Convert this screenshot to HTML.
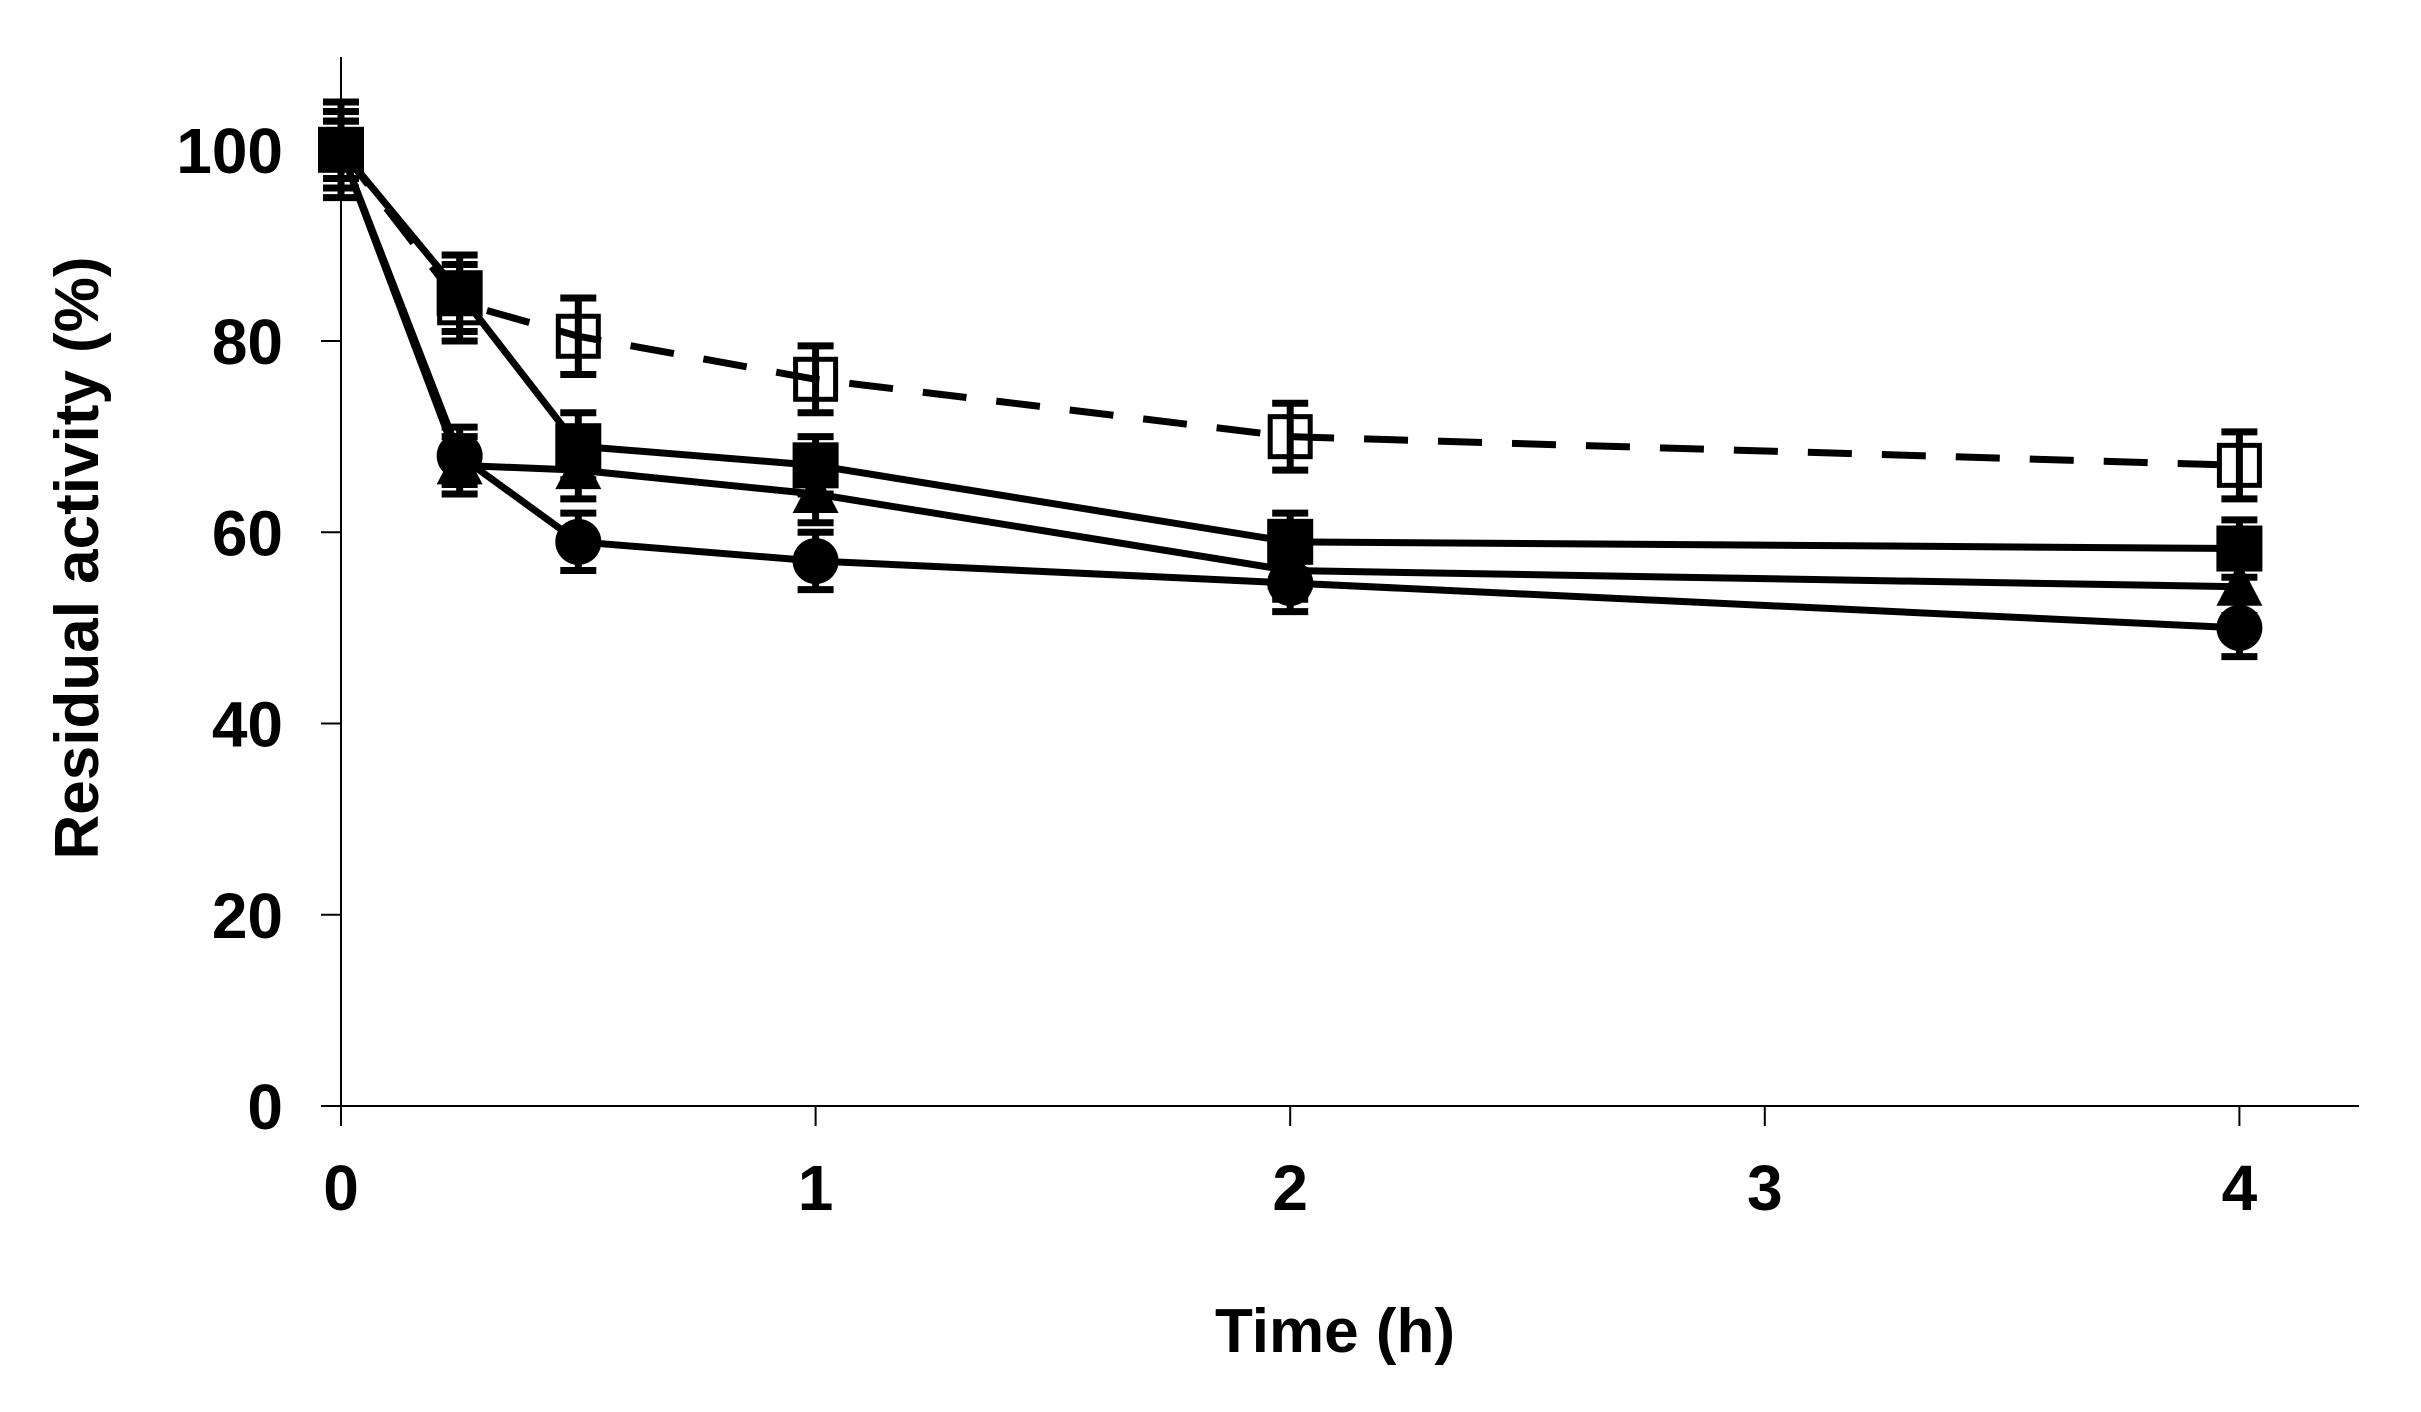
<!DOCTYPE html>
<html><head><meta charset="utf-8"><style>
html,body{margin:0;padding:0;background:#fff;}
svg text{font-family:"Liberation Sans",Arial,sans-serif;font-weight:bold;fill:#000;}
</style></head><body>
<svg id="chart" width="2421" height="1407" viewBox="0 0 2421 1407" xmlns="http://www.w3.org/2000/svg">
<g id="axes"></g>
<g id="series"></g>
<text x="0" y="0" font-size="62" text-anchor="middle" transform="translate(98,558) rotate(-90)">Residual activity (%)</text>
<text x="1335" y="1352" font-size="62" text-anchor="middle">Time (h)</text>
</svg>
<script>
const times = [0, 0.25, 0.5, 1, 2, 4];
const openSquare = [100, 84, 80.5, 76, 70, 67];
const openSquareErr = [5, 4, 4, 3.5, 3.5, 3.5];
const filledSquare = [100, 85, 69, 67, 59, 58.3];
const filledSquareErr = [4, 4, 3.5, 3, 3, 3];
const triangle = [100, 67, 66.5, 64, 56, 54.3];
const triangleErr = [3, 3, 3, 3, 3, 3];
const circle = [100, 68, 59, 57, 54.7, 50];
const circleErr = [3, 3, 3, 3, 3, 3];
const xTicks = [0, 1, 2, 3, 4];
const yTicks = [0, 20, 40, 60, 80, 100];

const NS = "http://www.w3.org/2000/svg";
const X0 = 341, XU = 474.6, Y0 = 1106, YU = (1106 - 149.8) / 100;
function xs(v){ return X0 + v * XU; }
function ys(v){ return Y0 - v * YU; }
function mk(tag, attrs, parent){
  const e = document.createElementNS(NS, tag);
  for (const k in attrs) e.setAttribute(k, attrs[k]);
  parent.appendChild(e);
  return e;
}
const axes = document.getElementById('axes');
const ser = document.getElementById('series');

let a = mk('line', {x1:X0, y1:57, x2:X0, y2:Y0, stroke:'#000', 'stroke-width':2}, axes);


a = mk('line', {x1:X0-20, y1:Y0, x2:2359, y2:Y0, stroke:'#000', 'stroke-width':2}, axes);



yTicks.forEach(v => {
  const t = mk('line', {x1:X0-20, y1:ys(v), x2:X0, y2:ys(v), stroke:'#000', 'stroke-width':2}, axes);
  
  
  const l = mk('text', {x:283, y:ys(v)+23, 'font-size':64, 'text-anchor':'end'}, axes);
  l.textContent = v;
  
  
});
xTicks.forEach(v => {
  const t = mk('line', {x1:xs(v), y1:Y0, x2:xs(v), y2:Y0+20, stroke:'#000', 'stroke-width':2}, axes);
  
  
  const l = mk('text', {x:xs(v), y:1210, 'font-size':64, 'text-anchor':'middle'}, axes);
  l.textContent = v;
  
  
});

function drawSeries(name, vals, errs, marker, dashed){
  const g = mk('g', {}, ser);
  
  
  const pts = vals.map((v,i) => xs(times[i]) + ',' + ys(v)).join(' ');
  const pl = mk('polyline', {points:pts, fill:'none', stroke:'#000', 'stroke-width':7,
    'stroke-dasharray': dashed ? '44,30' : 'none'}, g);
  
  
  vals.forEach((v,i) => {
    const x = xs(times[i]), y = ys(v), e = errs[i]*YU;
    const eb = mk('path', {d:`M${x},${y-e}V${y+e}M${x-18},${y-e}H${x+18}M${x-18},${y+e}H${x+18}`,
      stroke:'#000', 'stroke-width':7, fill:'none'}, g);
    
    
    let m;
    const s = 23;
    if (marker === 'open-square') m = mk('rect', {x:x-s+3, y:y-s+3, width:2*s-6, height:2*s-6, fill:'#fff', 'fill-opacity':0, stroke:'#000', 'stroke-width':5}, g);
    else if (marker === 'square') m = mk('rect', {x:x-s, y:y-s, width:2*s, height:2*s, fill:'#000'}, g);
    else if (marker === 'triangle') m = mk('polygon', {points:`${x},${y-s-2} ${x+s},${y+s-4} ${x-s},${y+s-4}`, fill:'#000'}, g);
    else m = mk('circle', {cx:x, cy:y, r:s, fill:'#000'}, g);
    
    
  });
}
drawSeries('circle', circle, circleErr, 'circle', false);
drawSeries('triangle', triangle, triangleErr, 'triangle', false);
drawSeries('filled-square', filledSquare, filledSquareErr, 'square', false);
drawSeries('open-square', openSquare, openSquareErr, 'open-square', true);
</script>
</body></html>
